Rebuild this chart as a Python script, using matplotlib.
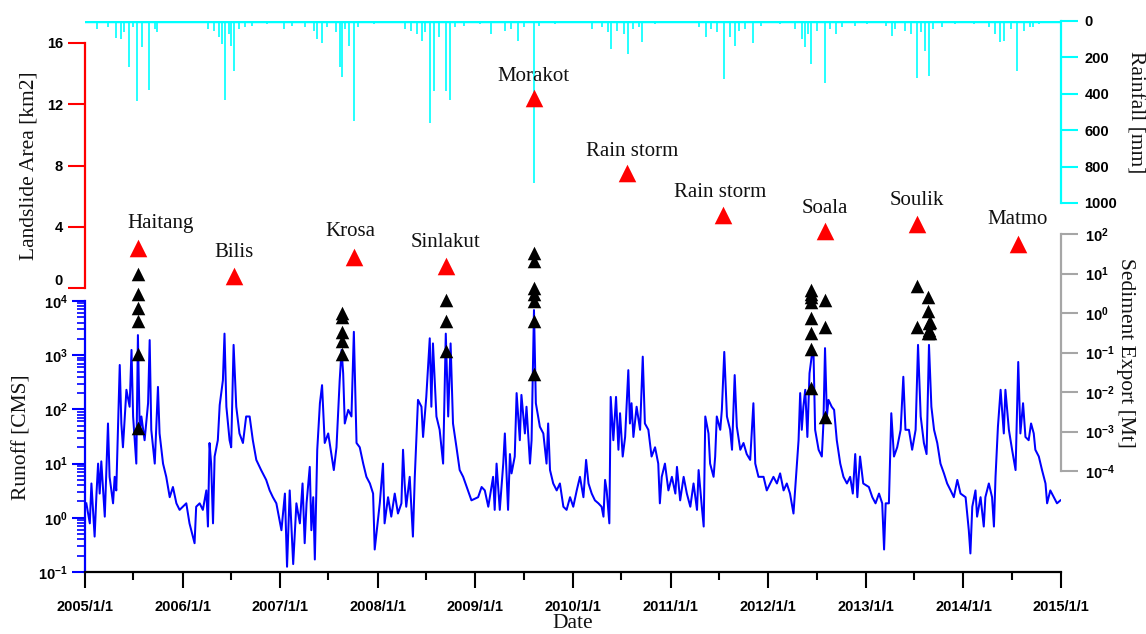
import matplotlib
matplotlib.use('Agg')
import matplotlib.pyplot as plt
import matplotlib.dates as mdates
from matplotlib.ticker import FixedLocator, FuncFormatter, LogLocator, NullLocator
import numpy as np
import pandas as pd

plt.rcParams['font.family'] = ['Liberation Sans', 'DejaVu Sans']
plt.rcParams['font.weight'] = 'bold'
plt.rcParams['mathtext.fontset'] = 'custom'
plt.rcParams['mathtext.rm'] = 'Liberation Sans:bold'
plt.rcParams['mathtext.it'] = 'Liberation Sans:bold'
plt.rcParams['mathtext.bf'] = 'Liberation Sans:bold'
plt.rcParams['mathtext.default'] = 'rm'
plt.rcParams['axes.unicode_minus'] = False

# ---------------- data ----------------
# daily runoff (CMS): day-of-year and value per year
doy_2005 = [6,19,25,37,44,50,56,62,75,87,93,106,112,118,131,137,143,156,168,175,181,187,193,199,206,212,224,237,243,249,262,274,280,293,305,318,330,343,355]
q_2005 = [1.85,0.79,4.3,0.45,2.8,10,2.8,11,1.05,55,5.7,1.85,5.7,3.2,660,55,20,230,112,1250,74,27,10,2350,36,74,27,130,1900,42,10,260,36,10,5.7,2.4,3.7,1.85,1.4]
doy_2006 = [15,27,46,52,65,77,90,96,102,108,115,121,133,140,152,158,165,177,183,192,202,214,227,239,252,264,277,295,314,327,339,352]
q_2006 = [1.85,0.79,0.34,1.6,1.85,1.4,3.2,0.69,24,10,0.79,13.5,27,120,345,2500,112,27,20,1550,112,36,24,74,74,27,11.7,7.6,5.0,3.2,2.4,1.85]
doy_2007 = [6,19,27,37,50,62,75,85,93,100,112,118,125,131,140,150,158,168,181,193,202,212,224,231,237,243,256,268,277,287,299,312,324,337,349,355]
q_2007 = [0.59,2.8,0.125,3.2,0.14,1.85,0.79,4.3,0.34,1.85,8.7,0.59,2.4,0.17,18,130,280,24,36,15,7.6,20,345,1250,465,55,98,74,2700,24,20,10,5.7,4.3,2.8,0.26]
doy_2008 = [9,21,27,40,52,65,77,90,96,102,108,121,133,140,152,165,171,183,196,202,208,221,233,246,256,265,274,283,296,308,321,339,352]
q_2008 = [1.85,10,0.79,2.4,1.05,2.8,1.2,1.85,18,4.3,1.6,5.7,0.45,5.7,150,112,31,170,2050,112,1650,74,42,10,2500,74,1650,55,20,7.6,5.7,3.2,2.1]
doy_2009 = [11,24,36,49,67,73,80,92,105,111,123,130,136,148,155,167,173,186,192,205,211,220,227,242,255,267,273,280,292,305,317,330,342,355]
q_2009 = [2.4,3.7,3.2,1.6,5.7,1.4,10,1.4,10,36,1.4,15,6.6,13.5,200,27,185,36,112,10,27,6800,130,48,36,10,55,7.6,4.3,3.2,4.3,1.6,1.4,2.4]
doy_2010 = [2,15,27,40,50,59,71,83,96,108,115,121,127,137,142,152,162,171,177,187,196,208,214,220,227,239,252,262,270,283,295,308,320,326,333,345,358]
q_2010 = [1.6,3.2,5.7,2.4,11.7,4.3,2.8,2.1,1.85,1.6,1.05,5.0,3.2,0.79,170,27,170,18,85,13.5,31,530,55,130,31,112,42,940,55,42,13.5,20,10,1.85,5.7,10,3.2]
doy_2011 = [6,19,25,37,50,62,75,87,100,106,118,125,131,143,149,162,168,174,187,193,202,212,224,231,241,249,262,274,286,299,311,318,330,349,361]
q_2011 = [5.7,2.8,8.7,2.1,5.7,2.8,1.6,4.3,1.4,7.6,1.6,0.69,74,36,10,5.7,13.5,74,42,98,1150,74,42,18,430,48,18,24,15,11.7,130,10,5.7,5.7,3.2]
doy_2012 = [9,21,34,46,59,71,83,96,102,115,121,127,133,140,148,156,164,171,177,190,202,208,214,221,227,239,248,258,271,283,296,308,318,327,335,345,357]
q_2012 = [4.3,5.7,4.3,6.6,3.2,4.3,2.8,1.2,3.2,27,200,42,112,230,31,465,940,1080,42,18,13.5,55,1350,74,150,112,98,27,10,5.7,4.3,5.7,2.8,15,2.4,13.5,4.3]
doy_2013 = [12,25,37,50,62,69,75,87,96,106,118,131,141,149,162,174,187,196,206,218,228,237,246,256,268,280,293,305,318,330,343,355]
q_2013 = [3.7,2.4,1.85,2.8,1.85,0.26,1.85,1.85,85,13.5,20,42,400,42,42,18,42,1550,74,24,15,1550,112,42,24,10,6.6,4.3,3.2,2.4,5.0,2.8]
doy_2014 = [9,21,27,34,46,52,65,77,83,96,108,115,121,130,140,152,158,171,183,196,206,214,224,233,245,254,264,270,283,295,308,314,326,339,351,364]
q_2014 = [2.4,0.59,0.22,1.6,3.2,1.05,2.4,0.69,2.4,4.3,2.4,0.69,5.7,48,230,36,230,42,18,7.6,750,36,130,31,27,55,36,18,13.5,7.6,4.3,1.85,3.2,2.4,1.85,2.1]

# daily rainfall (mm): larger storms and smaller rain days, decimal-year time
rain_peak_time = [2005.365,2005.448,2005.538,2005.589,2005.659,2005.743,
                  2006.408,2006.434,2006.498,2006.530,
                  2007.382,2007.426,2007.612,2007.631,2007.708,2007.759,
                  2008.451,2008.534,2008.572,2008.700,2008.739,
                  2009.161,2009.437,2009.603,
                  2010.391,2010.563,2010.711,
                  2011.364,2011.543,2011.658,2011.850,
                  2012.375,2012.439,2012.580,2012.695,
                  2013.271,2013.528,2013.604,2013.643,
                  2014.379,2014.552,2014.712]
rain_peak_mm = [100,256,442,146,380,64,
                128,435,137,278,
                100,120,256,310,137,552,
                110,561,384,384,435,
                73,110,890,
                155,183,119,
                91,320,137,124,
                146,238,344,73,
                82,314,164,305,
                119,274,37]
rain_minor_time = [2005.128,2005.237,2005.320,2005.397,2005.493,2005.717,
                   2006.261,2006.325,2006.370,2006.472,2006.581,2006.645,2006.709,2006.869,2007.042,
                   2007.125,2007.254,2007.350,2007.478,2007.574,2007.670,2007.798,2007.958,
                   2008.278,2008.342,2008.406,2008.483,2008.630,2008.790,2008.886,2009.046,
                   2009.302,2009.366,2009.494,2009.654,2009.814,2010.006,
                   2010.198,2010.295,2010.359,2010.455,2010.519,2010.615,2010.679,2010.839,2011.095,
                   2011.287,2011.415,2011.479,2011.607,2011.703,2011.767,2011.927,2012.119,
                   2012.279,2012.343,2012.407,2012.503,2012.631,2012.759,2012.887,2013.015,
                   2013.207,2013.303,2013.399,2013.464,2013.560,2013.688,2013.784,2013.912,
                   2014.104,2014.264,2014.328,2014.411,2014.488,2014.616,2014.680,2014.776]
rain_minor_mm = [46,37,95,64,37,46,
                 46,55,91,73,46,37,27,18,46,
                 27,37,55,37,64,46,37,18,
                 46,55,73,64,91,37,27,18,
                 55,46,37,27,18,9,
                 46,37,64,55,73,46,37,18,9,
                 37,46,64,91,55,46,27,18,
                 46,100,73,55,46,37,27,18,
                 27,46,55,73,64,46,37,18,
                 18,37,73,110,46,55,37,18]

# events: landslide area (km2)
event_names = ['Haitang', 'Bilis', 'Krosa', 'Sinlakut', 'Morakot',
               'Rain storm', 'Rain storm', 'Soala', 'Soulik', 'Matmo']
event_dates = ['2005-07-18', '2006-07-12', '2007-10-03', '2008-09-12', '2009-08-07',
               '2010-07-21', '2011-07-15', '2012-07-31', '2013-07-11', '2014-07-23']
landslide_area = [2.6, 0.8, 2.0, 1.45, 12.4, 7.5, 4.8, 3.7, 4.2, 2.9]

# sediment export (Mt)
sed_dates = (['2005-07-17'] * 6 + ['2007-08-19'] * 5 + ['2008-09-13'] * 3 +
             ['2009-08-08'] * 7 + ['2012-06-10'] * 8 + ['2012-08-01'] * 3 +
             ['2013-07-12'] * 2 + ['2013-08-22'] * 3 + ['2013-08-25'] * 2 +
             ['2013-08-28'] * 2)
sed_mt = [9.8, 3.0, 1.35, 0.63, 0.091, 0.0012,
          1.0, 0.79, 0.33, 0.19, 0.091,
          2.1, 0.63, 0.11,
          33, 21, 4.3, 3.0, 2.0, 0.63, 0.029,
          3.8, 3.0, 2.6, 1.9, 0.74, 0.31, 0.12, 0.0126,
          2.1, 0.45, 0.0023,
          4.8, 0.45,
          2.6, 1.1, 0.31,
          0.56, 0.37,
          0.31, 0.59]

# ---------------- helpers ----------------
def dec_year(t):
    y = int(t)
    s = pd.Timestamp(y, 1, 1)
    e = pd.Timestamp(y + 1, 1, 1)
    return s + (t - y) * (e - s)

years = list(range(2005, 2015))
doys = [doy_2005, doy_2006, doy_2007, doy_2008, doy_2009, doy_2010, doy_2011, doy_2012, doy_2013, doy_2014]
qs = [q_2005, q_2006, q_2007, q_2008, q_2009, q_2010, q_2011, q_2012, q_2013, q_2014]
q_dates, q_vals = [], []
for y, d, q in zip(years, doys, qs):
    q_dates += list(pd.Timestamp(y, 1, 1) + pd.to_timedelta(np.array(d) - 1, unit='D'))
    q_vals += q

rain_t = [dec_year(t) for t in rain_peak_time + rain_minor_time]
rain_v = rain_peak_mm + rain_minor_mm

x0, x1 = pd.Timestamp('2005-01-01'), pd.Timestamp('2015-01-01')

# ---------------- layout ----------------
W, H = 1146, 634
fig = plt.figure(figsize=(W / 100, H / 100), dpi=100)

def rect(xa, xb, yt, yb):
    return [xa / W, 1 - yb / H, (xb - xa) / W, (yb - yt) / H]

ax_q = fig.add_axes(rect(85, 1061, 301, 572))
ax_rain = fig.add_axes(rect(85, 1061, 20.7, 203))
ax_sed = fig.add_axes(rect(85, 1061, 234, 471))
ax_ls = fig.add_axes(rect(85, 1061, 43, 288))

for ax in (ax_q, ax_rain, ax_sed, ax_ls):
    ax.set_xlim(x0, x1)
    for s in ax.spines.values():
        s.set_visible(False)
for ax in (ax_rain, ax_sed, ax_ls):
    ax.patch.set_visible(False)
    ax.set_xticks([])

BLUE = '#0000FF'
RED = '#FF0000'
CYAN = '#00FFFF'
GRAY = '#A6A6A6'
TICK_FS = 10.5

# runoff
ax_q.plot(q_dates, q_vals, color=BLUE, lw=1.45)
ax_q.set_yscale('log')
ax_q.set_ylim(0.1, 1e4)
ax_q.spines['left'].set_visible(True)
ax_q.spines['left'].set_color(BLUE)
ax_q.spines['left'].set_linewidth(1.6)
ax_q.spines['bottom'].set_visible(True)
ax_q.spines['bottom'].set_color('black')
ax_q.spines['bottom'].set_linewidth(1.6)
ax_q.yaxis.set_major_locator(FixedLocator([0.1, 1, 10, 100, 1000, 10000]))
ax_q.yaxis.set_major_formatter(FuncFormatter(lambda v, p: r'$10^{%d}$' % int(round(np.log10(v)))))
ax_q.yaxis.set_minor_locator(LogLocator(base=10, subs=np.arange(2, 10), numticks=20))
ax_q.tick_params(axis='y', which='major', length=9.5, width=1.5, color=BLUE, labelsize=TICK_FS, pad=3)
ax_q.tick_params(axis='y', which='minor', length=5.5, width=1.2, color=BLUE)
ax_q.xaxis.set_major_locator(mdates.YearLocator(1))
ax_q.xaxis.set_major_formatter(FuncFormatter(lambda v, p: '%d/1/1' % mdates.num2date(v).year))
ax_q.xaxis.set_minor_locator(mdates.MonthLocator(bymonth=7))
ax_q.tick_params(axis='x', which='major', length=11.5, width=1.5, color='black', labelsize=TICK_FS, pad=9)
ax_q.tick_params(axis='x', which='minor', length=6, width=1.5, color='black')

# rainfall
ax_rain.axhline(0, color=CYAN, lw=2.5)
ax_rain.vlines(rain_t, 0, rain_v, color=CYAN, lw=1.2)
ax_rain.set_ylim(1000, 0)
ax_rain.spines['right'].set_visible(True)
ax_rain.spines['right'].set_color(CYAN)
ax_rain.spines['right'].set_linewidth(1.6)
ax_rain.yaxis.tick_right()
ax_rain.yaxis.set_major_locator(FixedLocator([0, 200, 400, 600, 800, 1000]))
ax_rain.tick_params(axis='y', which='major', length=12, width=1.5, color=CYAN, labelsize=TICK_FS, pad=5)

# sediment export
ax_sed.scatter(pd.to_datetime(sed_dates), sed_mt, marker='^', s=95, color='black', zorder=5, clip_on=False, linewidths=0)
ax_sed.set_yscale('log')
ax_sed.set_ylim(1e-4, 1e2)
ax_sed.spines['right'].set_visible(True)
ax_sed.spines['right'].set_color(GRAY)
ax_sed.spines['right'].set_linewidth(1.6)
ax_sed.yaxis.tick_right()
ax_sed.yaxis.set_major_locator(FixedLocator([1e-4, 1e-3, 1e-2, 1e-1, 1, 10, 100]))
ax_sed.yaxis.set_minor_locator(NullLocator())
ax_sed.yaxis.set_major_formatter(FuncFormatter(lambda v, p: r'$10^{%d}$' % int(round(np.log10(v)))))
ax_sed.tick_params(axis='y', which='major', length=12, width=1.5, color=GRAY, labelsize=TICK_FS, pad=5)

# landslide area
ev_d = pd.to_datetime(event_dates)
ax_ls.scatter(ev_d, landslide_area, marker='^', s=160, color=RED, zorder=6, clip_on=False, linewidths=0)
ax_ls.set_ylim(0, 16)
ax_ls.spines['left'].set_visible(True)
ax_ls.spines['left'].set_color(RED)
ax_ls.spines['left'].set_linewidth(1.6)
ax_ls.yaxis.set_major_locator(FixedLocator([0, 4, 8, 12, 16]))
ax_ls.tick_params(axis='y', which='major', length=12, width=1.5, color=RED, labelsize=TICK_FS, pad=4)
for lbl in ax_ls.get_yticklabels():
    if lbl.get_text() == '0':
        lbl.set_va('bottom')

label_dx = [16, 0, -2, 0, 0, 4, -2, 0, 0, 0]
label_dy = [18, 16.5, 18.5, 16.5, 15.5, 15.5, 15.5, 16.5, 16.5, 17]
for name, d, a, ox, oy in zip(event_names, ev_d, landslide_area, label_dx, label_dy):
    ax_ls.annotate(name, (d, a), xytext=(ox, oy), textcoords='offset points',
                   ha='center', va='center', fontsize=15, family='Liberation Serif',
                   fontweight='normal', color='#111111', annotation_clip=False)

serif = dict(family='Liberation Serif', fontweight='normal', fontsize=15.5, color='#111111')
fig.text(22 / W, 1 - 437 / H, 'Runoff [CMS]', rotation=90, ha='center', va='center', **serif)
fig.text(29 / W, 1 - 166 / H, 'Landslide Area [km2]', rotation=90, ha='center', va='center', **serif)
fig.text(1135 / W, 1 - 112 / H, 'Rainfall [mm]', rotation=270, ha='center', va='center', **serif)
fig.text(1125 / W, 1 - 353 / H, 'Sediment Export [Mt]', rotation=270, ha='center', va='center', **serif)
fig.text(573 / W, 1 - 624 / H, 'Date', ha='center', va='center', **serif)

fig.savefig('out.png', dpi=100)
